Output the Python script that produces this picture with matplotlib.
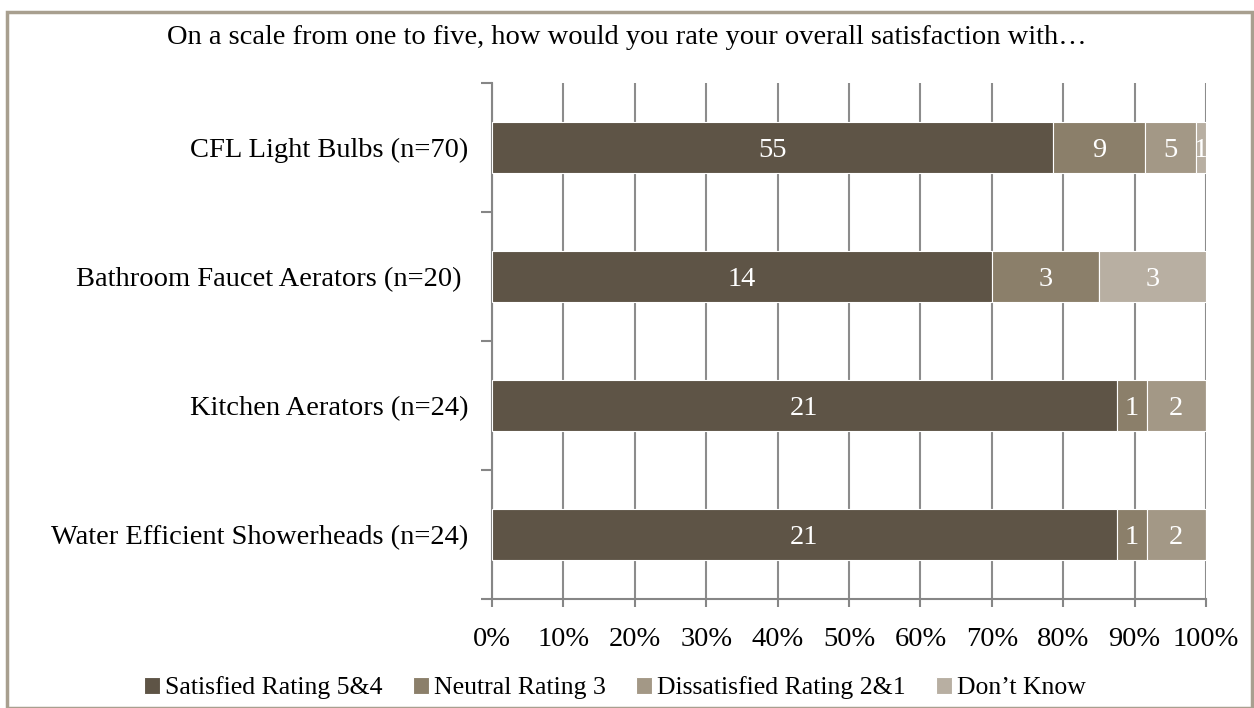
import matplotlib
matplotlib.use('Agg')
import matplotlib.pyplot as plt
from matplotlib.patches import Rectangle
import numpy as np

plt.rcParams['font.family'] = ['Liberation Serif', 'DejaVu Serif']

categories = ['CFL Light Bulbs (n=70)', 'Bathroom Faucet Aerators (n=20) ',
              'Kitchen Aerators (n=24)', 'Water Efficient Showerheads (n=24)']
n_resp = [70, 20, 24, 24]
satisfied = [55, 14, 21, 21]
neutral = [9, 3, 1, 1]
dissatisfied = [5, 0, 2, 2]
dont_know = [1, 3, 0, 0]

series = ['Satisfied Rating 5&4', 'Neutral Rating 3', 'Dissatisfied Rating 2&1', 'Don\u2019t Know']
colors = ['#5E5446', '#8B7F6A', '#A39886', '#B8AFA2']
title = 'On a scale from one to five, how would you rate your overall satisfaction with\u2026'

fs = 20.5
fig = plt.figure(figsize=(12.54, 7.08), dpi=100)
ax = fig.add_axes([492/1254, 1-599/708, (1206-492)/1254, (599-83)/708])

y = np.arange(len(categories))
n = np.array(n_resp, dtype=float)
left = np.zeros(len(categories))
for name, vals, c in zip(series, [satisfied, neutral, dissatisfied, dont_know], colors):
    vals = np.array(vals, dtype=float)
    w = vals / n * 100
    ax.barh(y, w, left=left, height=0.4, color=c, edgecolor='white', linewidth=0.8,
            label=name, zorder=3)
    for yi, l, wi, v in zip(y, left, w, vals):
        if v > 0:
            ax.text(l + wi / 2, yi, '%d' % v, ha='center', va='center_baseline',
                    color='white', fontsize=fs, zorder=4)
    left = left + w

ax.set_xlim(0, 100)
ax.set_ylim(len(categories) - 0.5, -0.5)
ax.set_xticks(np.arange(0, 101, 10))
ax.set_xticklabels(['%d%%' % v for v in range(0, 101, 10)], fontsize=fs)
ax.set_yticks(y)
ax.set_yticklabels(categories, fontsize=fs)
ax.set_yticks(np.arange(-0.5, len(categories), 1), minor=True)
ax.tick_params(axis='y', which='major', length=0, pad=17)
ax.tick_params(axis='y', which='minor', length=8, width=1.5, color='#868686')
ax.tick_params(axis='x', length=6, width=1.5, color='#868686', pad=14)
ax.grid(axis='x', color='#8C8C8C', linewidth=1.5, zorder=0)
for s in ['top', 'right']:
    ax.spines[s].set_visible(False)
for s in ['left', 'bottom']:
    ax.spines[s].set_color('#868686')
    ax.spines[s].set_linewidth(1.5)

fig.text(0.5, 1 - 38/708, title, ha='center', va='center', fontsize=fs)

handles, labels = ax.get_legend_handles_labels()
fig.legend(handles, labels, loc='center', bbox_to_anchor=(615/1254, 1 - 688/708), ncol=4,
           frameon=False, fontsize=18.5, handlelength=0.6, handleheight=0.6,
           handletextpad=0.2, columnspacing=1.2, borderpad=0)

fig.patches.append(Rectangle((7/1254, 0), (1252-7)/1254, (708-12)/708, transform=fig.transFigure,
                             fill=False, edgecolor='#A89F8F', linewidth=2.5))

fig.savefig('out.png', dpi=100)
